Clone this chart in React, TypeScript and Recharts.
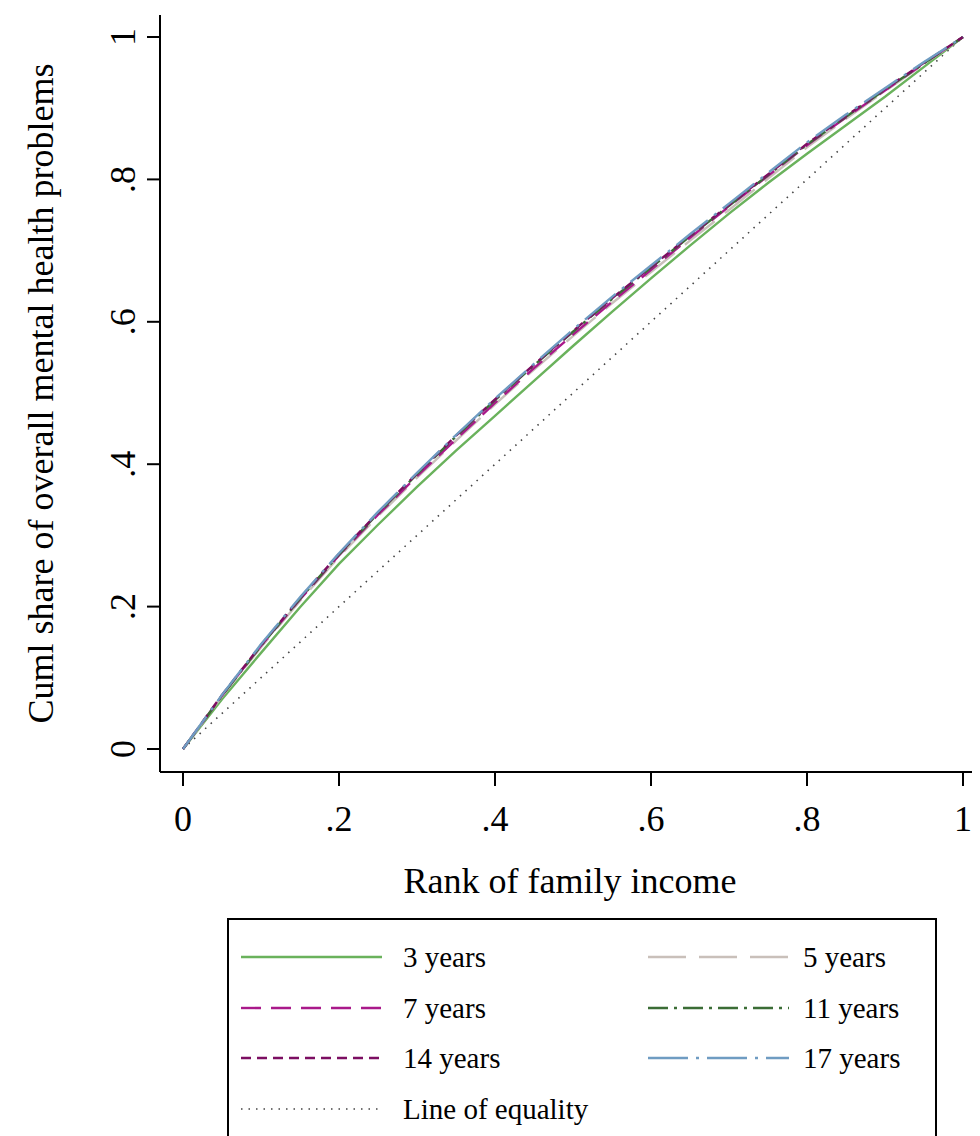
import React from 'react';
import { LineChart, Line, XAxis, YAxis, Legend } from 'recharts';

const FONT = '"Liberation Serif", "Times New Roman", serif';

// Rank of family income (x)
const rank = [0, 0.05, 0.1, 0.15, 0.2, 0.25, 0.3, 0.35, 0.4, 0.45, 0.5, 0.55, 0.6, 0.65, 0.7, 0.75, 0.8, 0.85, 0.9, 0.95, 1];

// Cumulative share of overall mental health problems, by age
const years3 = [0, 0.07, 0.135, 0.199, 0.26, 0.315, 0.368, 0.419, 0.468, 0.517, 0.566, 0.614, 0.661, 0.707, 0.752, 0.795, 0.836, 0.876, 0.916, 0.958, 1];
const years5 = [0, 0.074, 0.143, 0.208, 0.27, 0.327, 0.381, 0.433, 0.484, 0.533, 0.58, 0.626, 0.67, 0.714, 0.757, 0.801, 0.845, 0.885, 0.924, 0.962, 1];
const years7 = [0, 0.075, 0.145, 0.21, 0.272, 0.329, 0.383, 0.435, 0.486, 0.535, 0.582, 0.628, 0.673, 0.718, 0.762, 0.805, 0.848, 0.887, 0.925, 0.963, 1];
const years11 = [0, 0.075, 0.145, 0.211, 0.273, 0.331, 0.386, 0.439, 0.49, 0.539, 0.586, 0.632, 0.676, 0.72, 0.763, 0.806, 0.849, 0.888, 0.926, 0.963, 1];
const years14 = [0, 0.076, 0.146, 0.212, 0.274, 0.332, 0.387, 0.44, 0.491, 0.54, 0.587, 0.633, 0.677, 0.721, 0.764, 0.807, 0.85, 0.889, 0.927, 0.964, 1];
const years17 = [0, 0.076, 0.147, 0.213, 0.275, 0.333, 0.388, 0.441, 0.492, 0.541, 0.589, 0.635, 0.679, 0.723, 0.766, 0.809, 0.852, 0.891, 0.928, 0.965, 1];

const equalityX = [0, 1];
const equalityY = [0, 1];

const axisTicks = [0, 0.2, 0.4, 0.6, 0.8, 1];
const tickLabels = ['0', '.2', '.4', '.6', '.8', '1'];

const toRows = (xs: number[], ys: number[]) => xs.map((x, i) => ({ x, y: ys[i] }));

const series = [
  { name: '3 years', values: years3, color: '#6ab25c', dash: undefined as string | undefined },
  { name: '5 years', values: years5, color: '#c9c0ba', dash: '38 13' },
  { name: '7 years', values: years7, color: '#a9198a', dash: '20 10' },
  { name: '11 years', values: years11, color: '#3b6d36', dash: '20 6 3 6' },
  { name: '14 years', values: years14, color: '#7c0e62', dash: '10 6' },
  { name: '17 years', values: years17, color: '#6f9cc2', dash: '40 8 3 8' },
];

const equality = { name: 'Line of equality', color: '#444444', dash: '1.5 6' };

const legendOrder = ['3 years', '5 years', '7 years', '11 years', '14 years', '17 years', 'Line of equality'];

const fmt = (v: number) => {
  const i = axisTicks.findIndex((t) => Math.abs(t - v) < 1e-9);
  return i >= 0 ? tickLabels[i] : String(v);
};

const YTick = (props: any) => {
  const { x, y, payload } = props;
  const cx = x - 25;
  return (
    <text
      x={0}
      y={0}
      transform={`translate(${cx},${y}) rotate(-90)`}
      textAnchor="middle"
      dy="0.35em"
      fontSize={36}
      fontFamily={FONT}
      fill="#000"
    >
      {fmt(payload.value)}
    </text>
  );
};

const LegendBox = () => {
  const all = [...series, equality];
  const items = legendOrder.map((n) => all.find((s) => s.name === n)!);
  return (
    <div style={{ width: 972, height: 240, position: 'relative' }}>
      <div
        style={{
          position: 'absolute',
          left: 219,
          top: 0,
          width: 706,
          height: 236,
          border: '2px solid #000',
          background: '#fff',
        }}
      >
        {items.map((it, i) => {
          const col = i % 2;
          const row = Math.floor(i / 2);
          const left = col === 0 ? 12 : 419;
          const top = 37 + row * 50.5;
          return (
            <div key={it.name} style={{ position: 'absolute', left, top: top - 18, height: 36, display: 'flex', alignItems: 'center' }}>
              <svg width={141} height={10} style={{ display: 'block' }}>
                <line
                  x1={0}
                  y1={5}
                  x2={141}
                  y2={5}
                  stroke={it.color}
                  strokeWidth={it.name === 'Line of equality' ? 1.6 : 2.4}
                  strokeDasharray={it.dash}
                />
              </svg>
              <span style={{ marginLeft: col === 0 ? 21 : 14, fontFamily: FONT, fontSize: 29, color: '#000', whiteSpace: 'nowrap', lineHeight: '36px' }}>
                {it.name}
              </span>
            </div>
          );
        })}
      </div>
    </div>
  );
};

export default function App() {
  return (
    <div style={{ width: 972, height: 1128, overflow: 'hidden', background: '#fff' }}>
      <style>{'html, body { overflow: hidden; }'}</style>
      <LineChart width={972} height={1150} margin={{ top: 7, right: 0, left: 0, bottom: 0 }}>
        <XAxis
          type="number"
          dataKey="x"
          domain={[-0.02949, 1.0218]}
          allowDataOverflow
          ticks={axisTicks}
          tickFormatter={fmt}
          height={146}
          tickSize={14}
          tickMargin={19}
          axisLine={{ stroke: '#000', strokeWidth: 2 }}
          tickLine={{ stroke: '#000', strokeWidth: 2 }}
          tick={{ fontSize: 36, fontFamily: FONT, fill: '#000' }}
          label={{
            value: 'Rank of family income',
            position: 'insideTop',
            offset: 95,
            style: { fontSize: 36, fontFamily: FONT, fill: '#000' },
          }}
        />
        <YAxis
          type="number"
          domain={[-0.0323, 1.0309]}
          allowDataOverflow
          ticks={axisTicks}
          width={152}
          tickSize={13}
          tickMargin={0}
          axisLine={{ stroke: '#000', strokeWidth: 2 }}
          tickLine={{ stroke: '#000', strokeWidth: 2 }}
          tick={<YTick />}
          label={{
            value: 'Cuml share of overall mental health problems',
            angle: -90,
            position: 'insideLeft',
            offset: 32,
            style: { fontSize: 36, fontFamily: FONT, fill: '#000', textAnchor: 'middle' },
          }}
        />
        <Legend verticalAlign="bottom" align="left" content={<LegendBox />} />
        <Line
          data={toRows(equalityX, equalityY)}
          dataKey="y"
          name={equality.name}
          type="linear"
          stroke={equality.color}
          strokeWidth={1.6}
          strokeDasharray={equality.dash}
          dot={false}
          isAnimationActive={false}
          legendType="none"
        />
        {series.map((s) => (
          <Line
            key={s.name}
            data={toRows(rank, s.values)}
            dataKey="y"
            name={s.name}
            type="linear"
            stroke={s.color}
            strokeWidth={2.4}
            strokeDasharray={s.dash}
            dot={false}
            isAnimationActive={false}
          />
        ))}
      </LineChart>
    </div>
  );
}
